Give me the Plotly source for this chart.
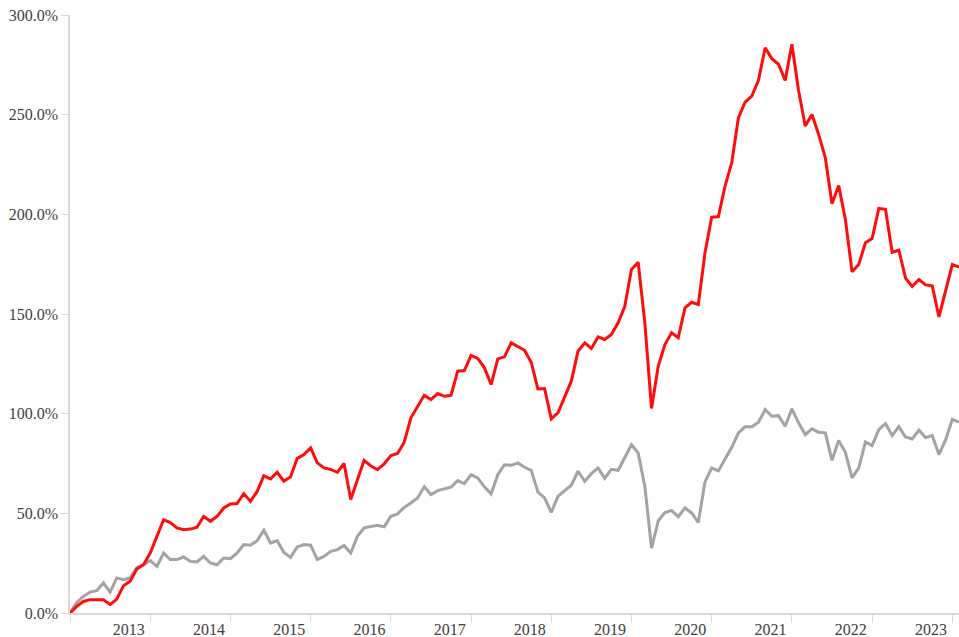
import plotly.graph_objects as go

# Monthly cumulative returns (%), starting Apr 2012 (index 0) through May 2023
red_values = [
    0.0, 3.3, 5.8, 6.7, 6.7, 6.7, 4.2, 7.0, 13.7, 15.9, 22.1, 24.2,
    30.1, 38.5, 46.8, 45.4, 42.7, 41.8, 42.1, 43.0, 48.5, 46.0, 48.5, 52.7,
    54.7, 54.9, 59.9, 56.0, 61.0, 68.9, 67.3, 70.6, 66.1, 68.3, 77.6, 79.5,
    82.8, 75.3, 72.8, 72.0, 70.6, 75.0, 56.9, 66.9, 76.5, 73.9, 71.9, 74.8,
    79.0, 80.0, 85.7, 97.9, 103.4, 109.2, 107.1, 110.1, 108.7, 109.2, 121.3, 121.6,
    129.2, 127.7, 123.0, 114.6, 127.5, 128.5, 135.5, 133.8, 131.8, 125.8, 112.4, 112.6,
    97.4, 100.4, 108.4, 116.3, 131.3, 135.5, 132.7, 138.5, 137.2, 139.7, 145.6, 153.9,
    172.3, 176.0, 145.6, 102.6, 123.8, 134.7, 140.6, 138.1, 153.1, 155.9, 154.8, 180.7,
    198.6, 198.8, 214.2, 225.9, 248.5, 256.3, 259.3, 267.2, 283.6, 278.1, 275.3, 267.2,
    285.3, 262.0, 244.3, 250.1, 240.1, 228.4, 205.3, 214.5, 197.4, 171.2, 174.8, 185.8,
    187.8, 203.0, 202.5, 181.0, 182.0, 168.0, 163.8, 167.3, 164.6, 164.1, 148.5, 161.0,
    174.8, 173.5,
]

gray_values = [
    0.0, 5.3, 8.3, 10.5, 11.2, 15.1, 10.5, 17.6, 16.7, 17.6, 22.9, 24.2,
    26.3, 23.4, 30.1, 26.8, 26.8, 28.1, 25.9, 25.6, 28.4, 25.1, 24.2, 27.6,
    27.3, 30.1, 34.3, 34.0, 36.3, 41.5, 35.1, 36.3, 30.4, 27.9, 33.1, 34.3,
    34.0, 26.8, 28.4, 30.9, 31.8, 33.9, 30.1, 38.5, 42.7, 43.5, 44.0, 43.2,
    48.5, 49.7, 53.0, 55.2, 57.7, 63.3, 59.4, 61.4, 62.2, 63.1, 66.4, 64.9,
    69.4, 67.8, 63.3, 59.7, 69.4, 74.4, 74.1, 75.3, 73.1, 71.6, 60.7, 57.7,
    50.5, 58.5, 61.4, 64.1, 71.1, 66.1, 69.9, 72.8, 67.6, 72.1, 71.6, 78.1,
    84.4, 80.3, 63.6, 32.6, 46.2, 50.4, 51.5, 48.3, 52.7, 50.2, 45.4, 65.8,
    72.8, 71.3, 77.0, 83.1, 90.4, 93.4, 93.4, 95.7, 102.1, 98.7, 99.0, 93.7,
    102.4, 95.4, 89.5, 92.4, 90.7, 90.4, 76.6, 86.6, 80.6, 67.8, 72.8, 85.8,
    84.0, 92.0, 95.0, 89.0, 93.5, 88.3, 87.3, 91.7, 88.0, 89.0, 79.5, 86.8,
    97.2, 95.8,
]

year_labels = ["2013", "2014", "2015", "2016", "2017", "2018",
               "2019", "2020", "2021", "2022", "2023"]
year_label_pos = [8.8 + 12 * k for k in range(len(year_labels))]  # January of each year
year_boundary_pos = [12 * k for k in range(len(year_labels) + 1)]

y_ticks = [0, 50, 100, 150, 200, 250, 300]

months = list(range(len(red_values)))

FONT = "Liberation Serif, Times New Roman, serif"
AXIS_GRAY = "#d9d9d9"

fig = go.Figure()
fig.add_trace(go.Scatter(
    x=months, y=gray_values, mode="lines",
    line=dict(color="#a6a1a2", width=3), showlegend=False,
))
fig.add_trace(go.Scatter(
    x=months, y=red_values, mode="lines",
    line=dict(color="#ff0d0d", width=3), showlegend=False,
))

fig.update_layout(
    width=959, height=637,
    margin=dict(l=70, r=0, t=15, b=24, autoexpand=False),
    paper_bgcolor="white", plot_bgcolor="white",
    font=dict(family=FONT, size=16, color="#404040"),
    showlegend=False,
)
fig.update_xaxes(
    range=[0, len(red_values) - 1],
    tickmode="array", tickvals=year_label_pos, ticktext=year_labels,
    ticks="outside", ticklen=1, tickcolor="rgba(0,0,0,0)",
    minor=dict(tickmode="array", tickvals=year_boundary_pos, ticks="outside",
               ticklen=8, tickcolor=AXIS_GRAY, tickwidth=1, showgrid=False),
    showline=True, linecolor=AXIS_GRAY, linewidth=1.5,
    showgrid=False, zeroline=False, automargin=False,
)
fig.update_yaxes(
    range=[0, 300],
    tickmode="array", tickvals=y_ticks,
    ticktext=[f"{v:.1f}%" for v in y_ticks],
    ticks="outside", ticklen=7, tickcolor=AXIS_GRAY,
    showline=True, linecolor=AXIS_GRAY, linewidth=1.5,
    showgrid=False, zeroline=False, automargin=False,
)

fig.write_html("out.html", config={"displayModeBar": False},
               post_script="document.body.style.margin='0';")
